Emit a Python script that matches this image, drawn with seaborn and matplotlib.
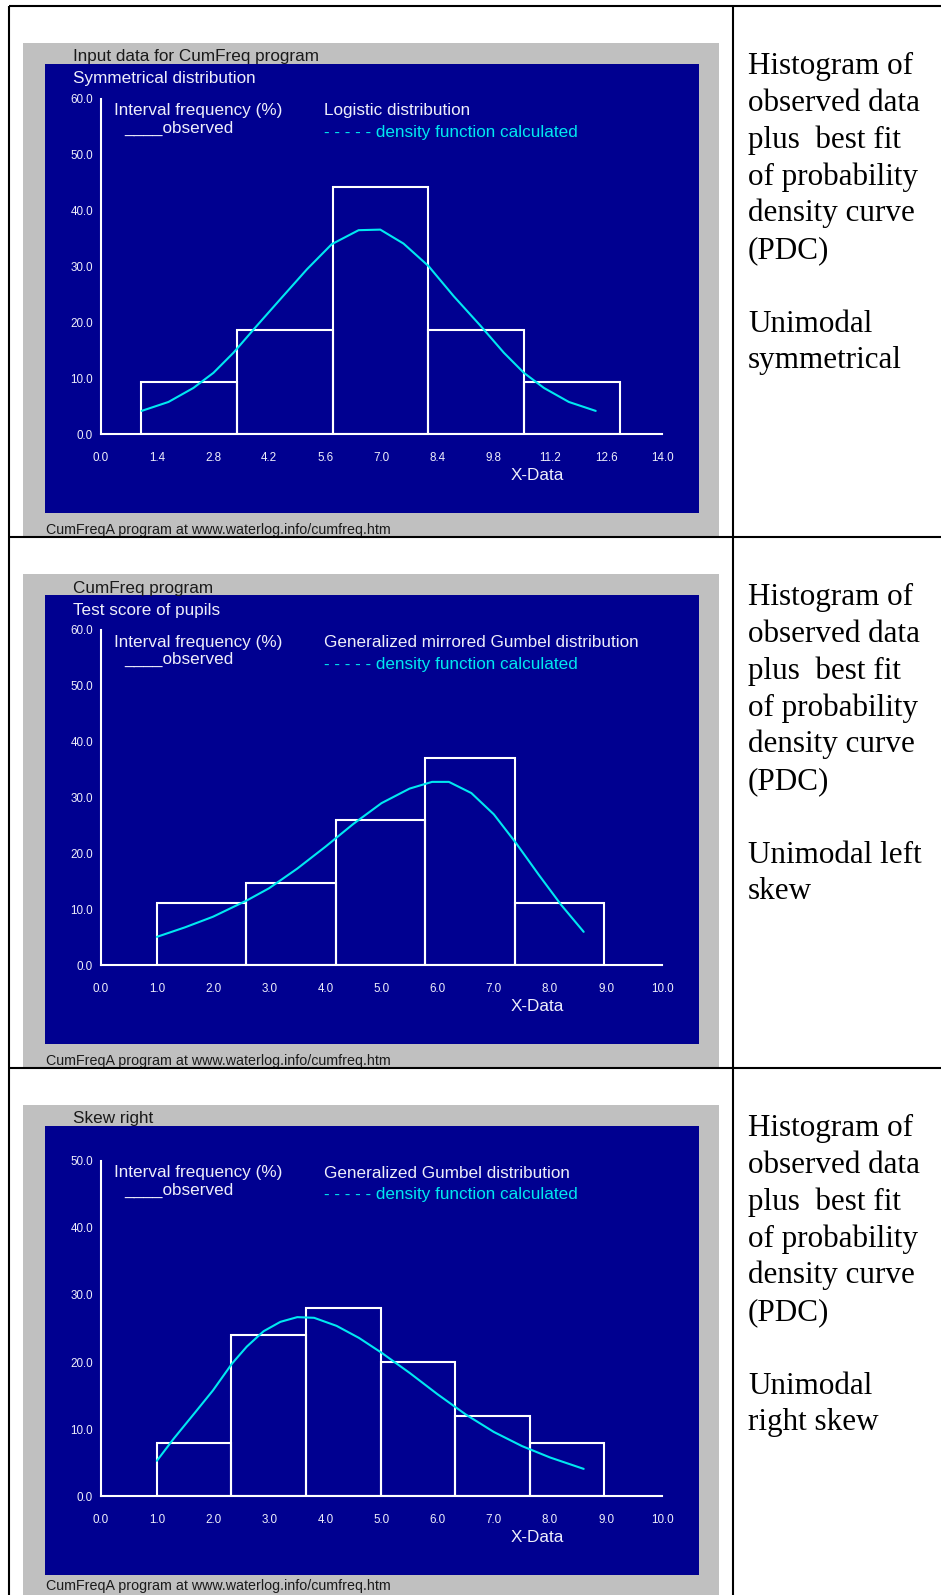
import numpy as np
import matplotlib
matplotlib.use("Agg")
import matplotlib.pyplot as plt
from matplotlib.patches import Rectangle
from matplotlib.lines import Line2D
import seaborn as sns

# ---------------- data ----------------
# Panel 1 : symmetrical, logistic fit
sym_edges = [1.0, 3.39, 5.78, 8.17, 10.56, 12.95]
sym_freq = [9.3, 18.6, 44.2, 18.6, 9.3]
sym_curve_x = [1.02, 1.69, 2.31, 2.81, 3.31, 3.89, 4.47, 5.14, 5.76, 6.43,
               6.97, 7.55, 8.17, 8.80, 9.47, 10.05, 10.55, 11.05, 11.67, 12.34]
sym_curve_y = [4.2, 5.8, 8.3, 11.0, 14.6, 19.4, 24.1, 29.5, 34.0, 36.5,
               36.6, 34.1, 30.1, 24.7, 19.4, 14.6, 11.0, 8.3, 5.8, 4.2]
sym_xticks = [0.0, 1.4, 2.8, 4.2, 5.6, 7.0, 8.4, 9.8, 11.2, 12.6, 14.0]
sym_yticks = [0.0, 10.0, 20.0, 30.0, 40.0, 50.0, 60.0]

# Panel 2 : left skew, mirrored Gumbel fit
left_edges = [1.0, 2.59, 4.19, 5.78, 7.37, 8.97]
left_freq = [11.1, 14.8, 25.9, 37.0, 11.1]
left_curve_x = [1.0, 1.5, 2.0, 2.6, 3.0, 3.5, 4.0, 4.5, 5.0, 5.5,
                5.9, 6.2, 6.6, 7.0, 7.4, 7.8, 8.2, 8.6]
left_curve_y = [5.1, 6.8, 8.7, 11.6, 13.8, 17.3, 21.2, 25.3, 29.0, 31.6,
                32.8, 32.8, 30.8, 27.0, 21.8, 16.2, 10.8, 6.0]
left_xticks = [0.0, 1.0, 2.0, 3.0, 4.0, 5.0, 6.0, 7.0, 8.0, 9.0, 10.0]
left_yticks = [0.0, 10.0, 20.0, 30.0, 40.0, 50.0, 60.0]

# Panel 3 : right skew, Gumbel fit
right_edges = [1.0, 2.328, 3.656, 4.985, 6.313, 7.641, 8.97]
right_freq = [8.0, 24.0, 28.0, 20.0, 12.0, 8.0]
right_curve_x = [1.0, 1.3, 1.7, 2.0, 2.34, 2.6, 2.9, 3.2, 3.5, 3.8,
                 4.2, 4.6, 5.0, 5.5, 6.0, 6.5, 7.0, 7.5, 8.0, 8.6]
right_curve_y = [5.3, 8.6, 12.7, 15.8, 19.8, 22.3, 24.6, 26.0, 26.7, 26.6,
                 25.4, 23.6, 21.4, 18.4, 15.2, 12.2, 9.6, 7.5, 5.8, 4.1]
right_xticks = [0.0, 1.0, 2.0, 3.0, 4.0, 5.0, 6.0, 7.0, 8.0, 9.0, 10.0]
right_yticks = [0.0, 10.0, 20.0, 30.0, 40.0, 50.0]

program_titles = ["Input data for CumFreq program", "CumFreq program", "Skew right"]
subtitles = ["Symmetrical distribution", "Test score of pupils", ""]
dist_names = ["Logistic distribution", "Generalized mirrored Gumbel distribution",
              "Generalized Gumbel distribution"]
side_notes = [
    ["Histogram of", "observed data", "plus  best fit", "of probability",
     "density curve", "(PDC)", "", "Unimodal", "symmetrical"],
    ["Histogram of", "observed data", "plus  best fit", "of probability",
     "density curve", "(PDC)", "", "Unimodal left", "skew"],
    ["Histogram of", "observed data", "plus  best fit", "of probability",
     "density curve", "(PDC)", "", "Unimodal", "right skew"],
]
footer = "CumFreqA program at www.waterlog.info/cumfreq.htm"

panels = [
    dict(edges=sym_edges, freq=sym_freq, cx=sym_curve_x, cy=sym_curve_y,
         xticks=sym_xticks, yticks=sym_yticks),
    dict(edges=left_edges, freq=left_freq, cx=left_curve_x, cy=left_curve_y,
         xticks=left_xticks, yticks=left_yticks),
    dict(edges=right_edges, freq=right_freq, cx=right_curve_x, cy=right_curve_y,
         xticks=right_xticks, yticks=right_yticks),
]

# ---------------- styling ----------------
sns.set_theme(style="white")
plt.rcParams["font.family"] = ["Liberation Sans", "DejaVu Sans"]

W, H, DPI = 941, 1595, 100
NAVY = "#000090"
GREY = "#C0C0C0"
CYAN = "#00E8F0"
TXT = "#EEEEFA"
LW = 1.5

fig = plt.figure(figsize=(W / DPI, H / DPI), dpi=DPI)
fig.patch.set_facecolor("white")


def fx(px):
    return px / W


def fy(py):
    return 1.0 - py / H


def box(x0, y0, x1, y1, color):
    fig.add_artist(Rectangle((fx(x0), fy(y1)), (x1 - x0) / W, (y1 - y0) / H,
                             transform=fig.transFigure, facecolor=color,
                             edgecolor="none", zorder=0))


def rule(x0, y0, x1, y1):
    fig.add_artist(Line2D([fx(x0), fx(x1)], [fy(y0), fy(y1)],
                          transform=fig.transFigure, color="black",
                          lw=1.5, zorder=5, solid_capstyle="butt"))


def label(x, y, s, **kw):
    fig.text(fx(x), fy(y), s, **kw)


STEP = 531
for i, p in enumerate(panels):
    off = i * STEP
    grey_bottom = min(537 + off, H)
    box(23, 43 + off, 719, grey_bottom, GREY)
    box(45, 64 + off, 699, 513 + off, NAVY)

    # axes placed where the value range maps onto the frame
    ax = fig.add_axes([fx(100.7), fy(434.4 + off), (662.3 - 100.7) / W,
                       (434.4 - 98.7) / H])
    ax.patch.set_visible(False)

    centers = [(a + b) / 2 for a, b in zip(p["edges"][:-1], p["edges"][1:])]
    sns.histplot(x=centers, weights=p["freq"], bins=p["edges"], ax=ax,
                 fill=False, element="bars", color="white", linewidth=LW,
                 zorder=3)
    sns.lineplot(x=p["cx"], y=p["cy"], ax=ax, color=CYAN, linewidth=LW,
                 zorder=4)

    ax.set_xlim(p["xticks"][0], p["xticks"][-1])
    ax.set_ylim(p["yticks"][0], p["yticks"][-1])
    ax.set_xticks(p["xticks"])
    ax.set_xticklabels([f"{t:.1f}" for t in p["xticks"]])
    ax.set_yticks(p["yticks"])
    ax.set_yticklabels([f"{t:.1f}" for t in p["yticks"]])
    ax.set_xlabel("")
    ax.set_ylabel("")
    ax.grid(False)
    for side in ("top", "right"):
        ax.spines[side].set_visible(False)
    for side in ("left", "bottom"):
        ax.spines[side].set_color("white")
        ax.spines[side].set_linewidth(LW)
        ax.spines[side].set_zorder(5)
    ax.tick_params(axis="x", direction="out", length=5, width=LW,
                   color="white", labelcolor=TXT, labelsize=8.4, pad=7.5)
    ax.tick_params(axis="y", direction="out", length=4, width=LW,
                   color="white", labelcolor=TXT, labelsize=8.4, pad=1.5)

    # header texts
    label(73, 57 + off, program_titles[i], color="#1A1A1A", fontsize=12.3,
          va="center", ha="left")
    if subtitles[i]:
        label(73, 79 + off, subtitles[i], color=TXT, fontsize=12.3,
              va="center", ha="left")
    label(114, 111 + off, "Interval frequency (%)", color=TXT, fontsize=12.3,
          va="center", ha="left")
    label(124, 128 + off, "____observed", color=TXT, fontsize=12.3,
          va="center", ha="left")
    label(324.5, 111 + off, dist_names[i], color=TXT, fontsize=12.3,
          va="center", ha="left")
    label(324.5, 133 + off, "- - - - - density function calculated",
          color=CYAN, fontsize=12.3, va="center", ha="left")
    label(537, 475 + off, "X-Data", color=TXT, fontsize=12.3,
          va="center", ha="center")
    # the last footer sits right at the lower edge of the page
    foot_y = min(530 + off, H - 9)
    label(46, foot_y, footer, color="#1A1A1A", fontsize=10.3,
          va="center", ha="left")

    # description column
    for k, line in enumerate(side_notes[i]):
        if line:
            label(748, 66.5 + off + k * 36.8, line, color="black",
                  fontsize=22.4, va="center", ha="left",
                  family=["Liberation Serif", "DejaVu Serif"])

# table rules
rule(8.5, 5.5, W, 5.5)
rule(8.5, 5.5, 8.5, H)
rule(733, 5.5, 733, H)
rule(8.5, 537, W, 537)
rule(8.5, 1068, W, 1068)

fig.savefig("out.png", dpi=DPI, facecolor=fig.get_facecolor())
